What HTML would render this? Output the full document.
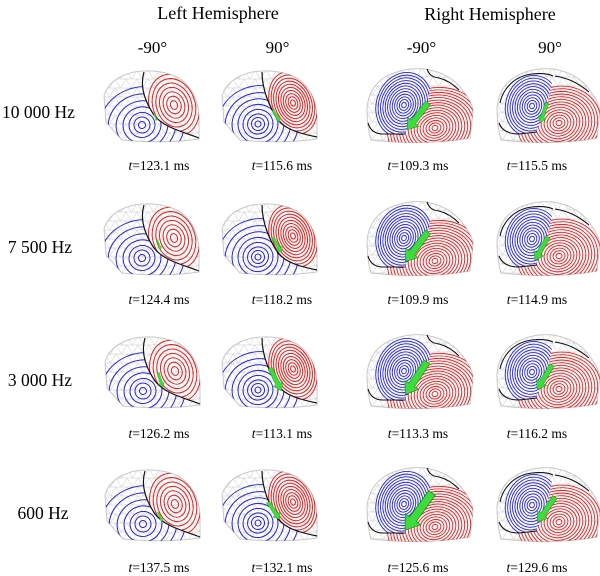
<!DOCTYPE html>
<html><head><meta charset="utf-8"><style>
html,body{margin:0;padding:0;background:#fff;}
svg{display:block;}
</style></head><body>
<svg width="600" height="576" viewBox="0 0 600 576" xmlns="http://www.w3.org/2000/svg" xmlns:xlink="http://www.w3.org/1999/xlink" font-family="'Liberation Serif', serif">
<defs>
<pattern id="mesh" width="11" height="9" patternUnits="userSpaceOnUse"><path d="M0,0H11M0,0L5.5,9L11,0M0,9H11" stroke="#d8d8d8" stroke-width="0.7" fill="none"/></pattern>
<clipPath id="hA"><path d="M0,26 Q5,8 30,2 Q55,-2 75,8 Q93,20 95,45 L95,69 Q60,74 18,70 L2,52 Z"/></clipPath>
<clipPath id="hC"><path d="M0,40 Q2,18 20,8 Q38,-1 58,1 Q84,5 97,24 Q106,36 106,44 L103,70 Q60,78 4,72 Q0,58 0,40 Z"/></clipPath>
<clipPath id="hD"><path d="M0,40 Q1.9,18 19.4,8 Q36.9,-1 56.3,1 Q81.5,5 94.1,24 Q102.8,36 102.8,44 L99.9,70 Q58.2,78 3.9,72 Q0,58 0,40 Z"/></clipPath>
<clipPath id="rA"><path d="M39,-5 C36,15 40,30 50,45 C60,58 80,62 100,68 L100,-5 Z"/></clipPath>
<clipPath id="bA"><path d="M39,-5 C36,15 40,30 50,45 C60,58 80,62 100,68 L100,80 L-5,80 L-5,-5 Z"/></clipPath>
<clipPath id="rB"><path d="M40,-5 C40,20 48,38 56,50 C64,60 80,64 100,67 L100,-5 Z"/></clipPath>
<clipPath id="bB"><path d="M40,-5 C40,20 48,38 56,50 C64,60 80,64 100,67 L100,80 L-5,80 L-5,-5 Z"/></clipPath>
<clipPath id="bC"><path d="M64,-5 L63,20 L61,33 L50,48 L40,62 L36,67 L14,66 L2,58 L-5,55 L-5,-5 Z"/></clipPath>
<clipPath id="rC"><path d="M63,20 L66,12 L74,11 L92,22 L115,30 L115,90 L-5,90 L-5,60 L2,58 L14,66 L36,67 L40,62 L50,48 L61,33 Z"/></clipPath>
<clipPath id="bD"><path d="M58,-5 L56,10 L52,28 L47,45 L42,58 L38,65 L14,66 L2,58 L-5,55 L-5,-5 Z"/></clipPath>
<clipPath id="rD"><path d="M56,10 L62,9 L74,11 L92,24 L115,30 L115,90 L-5,90 L-5,60 L2,58 L14,66 L38,65 L42,58 L47,45 L52,28 Z"/></clipPath>

<polygon id="arr" points="0,-3 24,-3 24,-7 34,0 24,7 24,3 0,3" fill="#3bdc3b" stroke="#1a7f1a" stroke-width="0.5"/>

<!-- Template A: Left hemisphere -90 -->
<g id="tA">
<path d="M0,26 Q5,8 30,2 Q55,-2 75,8 Q93,20 95,45 L95,69 Q60,74 18,70 L2,52 Z" fill="url(#mesh)" stroke="#c8c8c8" stroke-width="1"/>
<g clip-path="url(#hA)" fill="none" stroke-width="1">
 <g clip-path="url(#rA)" stroke="#e41e1e"><g transform="translate(70,35) rotate(-20)">
  <ellipse rx="3.5" ry="4.5"/><ellipse rx="7" ry="9"/><ellipse rx="10.5" ry="13.5"/><ellipse rx="14" ry="18"/><ellipse rx="17.5" ry="22.5"/><ellipse rx="21" ry="27"/><ellipse rx="24.5" ry="31.5"/>
 </g></g>
 <g clip-path="url(#bA)" stroke="#2424d8"><g transform="translate(38,55) rotate(-15)">
  <ellipse rx="3.5" ry="3.5"/><ellipse rx="8" ry="8"/><ellipse rx="13" ry="12.5"/><ellipse rx="19" ry="18"/><ellipse rx="26" ry="24"/><ellipse rx="34" ry="31"/><ellipse rx="43" ry="38"/>
 </g></g>
</g>
<path d="M40,2 C36,15 40,30 50,45 C60,58 80,62 95,68" fill="none" stroke="#111" stroke-width="1.2"/>
</g>

<!-- Template B: Left hemisphere 90 -->
<g id="tB">
<path d="M0,26 Q5,8 30,2 Q55,-2 75,8 Q93,20 95,45 L95,69 Q60,74 18,70 L2,52 Z" fill="url(#mesh)" stroke="#c8c8c8" stroke-width="1"/>
<g clip-path="url(#hA)" fill="none" stroke-width="1">
 <g clip-path="url(#rB)" stroke="#e41e1e"><g transform="translate(71,33) rotate(-20)">
  <ellipse rx="2.3" ry="3.2"/><ellipse rx="4.6" ry="6.4"/><ellipse rx="6.9" ry="9.6"/><ellipse rx="9.2" ry="12.8"/><ellipse rx="11.5" ry="16"/><ellipse rx="13.8" ry="19.2"/><ellipse rx="16.1" ry="22.4"/><ellipse rx="18.4" ry="25.6"/><ellipse rx="20.7" ry="28.8"/><ellipse rx="23" ry="32"/>
 </g></g>
 <g clip-path="url(#bB)" stroke="#2424d8"><g transform="translate(36,54) rotate(-20)">
  <ellipse rx="3" ry="3"/><ellipse rx="6.5" ry="6.5"/><ellipse rx="10.5" ry="10"/><ellipse rx="15" ry="14.5"/><ellipse rx="20" ry="19.5"/><ellipse rx="26" ry="25"/><ellipse rx="33" ry="31"/><ellipse rx="41" ry="38"/>
 </g></g>
</g>
<path d="M40,2 C40,20 48,38 56,50 C64,60 80,64 95,67" fill="none" stroke="#111" stroke-width="1.2"/>
</g>

<!-- Template C: Right hemisphere -90 -->
<g id="tC">
<path d="M0,40 Q2,18 20,8 Q38,-1 58,1 Q84,5 97,24 Q106,36 106,44 L103,70 Q60,78 4,72 Q0,58 0,40 Z" fill="url(#mesh)" stroke="#c8c8c8" stroke-width="1"/>
<g clip-path="url(#hC)" fill="none" stroke-width="0.9">
 <g clip-path="url(#bC)" stroke="#2424d8"><g transform="translate(37,37) rotate(18)">
  <ellipse rx="2.3" ry="2.75"/><ellipse rx="4.6" ry="5.5"/><ellipse rx="6.9" ry="8.25"/><ellipse rx="9.2" ry="11"/><ellipse rx="11.5" ry="13.75"/><ellipse rx="13.8" ry="16.5"/><ellipse rx="16.1" ry="19.25"/><ellipse rx="18.4" ry="22"/><ellipse rx="20.7" ry="24.75"/><ellipse rx="23" ry="27.5"/><ellipse rx="25.3" ry="30.25"/><ellipse rx="27.6" ry="33"/>
 </g></g>
 <g clip-path="url(#rC)" stroke="#e41e1e"><g transform="translate(68,60) rotate(-15)">
  <ellipse rx="3" ry="2.5"/><ellipse rx="6" ry="5"/><ellipse rx="9" ry="7.5"/><ellipse rx="12" ry="10"/><ellipse rx="15" ry="12.5"/><ellipse rx="18" ry="15"/><ellipse rx="21" ry="17.5"/><ellipse rx="24" ry="20"/><ellipse rx="27" ry="22.5"/><ellipse rx="30" ry="25"/><ellipse rx="33" ry="27.5"/><ellipse rx="36" ry="30"/><ellipse rx="39" ry="32.5"/><ellipse rx="42" ry="35"/><ellipse rx="45" ry="37.5"/><ellipse rx="48" ry="40"/>
 </g></g>
</g>
<path d="M60,1 C62,6 64,9 72,10 C80,12 86,16 92,22" fill="none" stroke="#111" stroke-width="1.1"/>
<path d="M1,55 C3,62 8,66 16,66 L38,66" fill="none" stroke="#111" stroke-width="1.1"/>
</g>

<!-- Template D: Right hemisphere 90 -->
<g id="tD">
<path d="M0,40 Q1.9,18 19.4,8 Q36.9,-1 56.3,1 Q81.5,5 94.1,24 Q102.8,36 102.8,44 L99.9,70 Q58.2,78 3.9,72 Q0,58 0,40 Z" fill="url(#mesh)" stroke="#c8c8c8" stroke-width="1"/>
<g clip-path="url(#hD)" fill="none" stroke-width="0.9">
 <g clip-path="url(#bD)" stroke="#2424d8"><g transform="translate(35,38) rotate(15)">
  <ellipse rx="2.4" ry="2.8"/><ellipse rx="4.8" ry="5.6"/><ellipse rx="7.2" ry="8.4"/><ellipse rx="9.6" ry="11.2"/><ellipse rx="12" ry="14"/><ellipse rx="14.4" ry="16.8"/><ellipse rx="16.8" ry="19.6"/><ellipse rx="19.2" ry="22.4"/><ellipse rx="21.6" ry="25.2"/><ellipse rx="24" ry="28"/><ellipse rx="26.4" ry="30.8"/>
 </g></g>
 <g clip-path="url(#rD)" stroke="#e41e1e"><g transform="translate(62,55) rotate(-15)">
  <ellipse rx="3" ry="2.6"/><ellipse rx="6" ry="5.2"/><ellipse rx="9" ry="7.8"/><ellipse rx="12" ry="10.4"/><ellipse rx="15" ry="13"/><ellipse rx="18" ry="15.6"/><ellipse rx="21" ry="18.2"/><ellipse rx="24" ry="20.8"/><ellipse rx="27" ry="23.4"/><ellipse rx="30" ry="26"/><ellipse rx="33" ry="28.6"/><ellipse rx="36" ry="31.2"/><ellipse rx="39" ry="33.8"/><ellipse rx="42" ry="36.4"/>
 </g></g>
</g>
<path d="M3,35 C6,20 18,8 35,6 C45,5 52,6 56,8" fill="none" stroke="#111" stroke-width="1.1"/>
<path d="M58,8 C70,10 80,14 92,24" fill="none" stroke="#111" stroke-width="1.1"/>
<path d="M2,55 C5,63 12,66 22,66 L40,64" fill="none" stroke="#111" stroke-width="1.1"/>
</g>
</defs>

<!-- Headers -->
<text x="218" y="19" font-size="18" text-anchor="middle">Left Hemisphere</text>
<text x="490" y="20" font-size="18" text-anchor="middle">Right Hemisphere</text>
<text x="152.5" y="53" font-size="17" text-anchor="middle">-90°</text>
<text x="277.5" y="53" font-size="17" text-anchor="middle">90°</text>
<text x="421.5" y="53" font-size="17" text-anchor="middle">-90°</text>
<text x="550" y="53" font-size="17" text-anchor="middle">90°</text>

<!-- Row labels -->
<text x="38.5" y="118" font-size="17.5" text-anchor="middle">10 000 Hz</text>
<text x="40" y="253" font-size="17.5" text-anchor="middle">7 500 Hz</text>
<text x="40" y="386" font-size="17.5" text-anchor="middle">3 000 Hz</text>
<text x="43" y="519" font-size="17.5" text-anchor="middle">600 Hz</text>

<!-- Heads row 1 -->
<use href="#tA" x="104" y="70"/>
<use href="#tB" x="222" y="70"/>
<use href="#tC" x="367" y="68"/>
<use href="#tD" x="497" y="68"/>
<!-- row 2 -->
<use href="#tA" x="104" y="203"/>
<use href="#tB" x="222" y="203"/>
<use href="#tC" x="367" y="201"/>
<use href="#tD" x="497" y="201"/>
<!-- row 3 -->
<use href="#tA" x="105" y="336"/>
<use href="#tB" x="222" y="336"/>
<use href="#tC" x="367" y="334"/>
<use href="#tD" x="497" y="334"/>
<!-- row 4 -->
<use href="#tA" x="105" y="469"/>
<use href="#tB" x="222" y="469"/>
<use href="#tC" x="367" y="467"/>
<use href="#tD" x="497" y="467"/>

<!-- Arrows col1 -->
<use href="#arr" transform="translate(154,114) rotate(65) scale(0.22)" style="fill:#8a9a20"/>
<use href="#arr" transform="translate(157,240) rotate(68) scale(0.3)"/>
<use href="#arr" transform="translate(158,373) rotate(71.6) scale(0.45)"/>
<use href="#arr" transform="translate(158,512) rotate(66) scale(0.3)"/>
<!-- Arrows col2 -->
<use href="#arr" transform="translate(273,110) rotate(59.7) scale(0.4)"/>
<use href="#arr" transform="translate(273,238) rotate(59) scale(0.5)"/>
<use href="#arr" transform="translate(270,368) rotate(63.4) scale(0.75)"/>
<use href="#arr" transform="translate(268,502) rotate(56) scale(0.62)"/>
<!-- Arrows col3 -->
<use href="#arr" transform="translate(428,103) rotate(127.9) scale(1.0)"/>
<use href="#arr" transform="translate(428,232) rotate(127.5) scale(1.1)"/>
<use href="#arr" transform="translate(427,362) rotate(123.7) scale(1.15)"/>
<use href="#arr" transform="translate(432,493) rotate(126) scale(1.35)"/>
<!-- Arrows col4 -->
<use href="#arr" transform="translate(547,103) rotate(109) scale(0.62)"/>
<use href="#arr" transform="translate(548,237) rotate(119.5) scale(0.78)"/>
<use href="#arr" transform="translate(552,365) rotate(121) scale(0.85)"/>
<use href="#arr" transform="translate(555,497) rotate(124.7) scale(0.9)"/>

<!-- Time labels -->
<g font-size="13.5" text-anchor="middle">
<text x="159" y="170"><tspan font-style="italic">t</tspan>=123.1 ms</text>
<text x="282" y="170"><tspan font-style="italic">t</tspan>=115.6 ms</text>
<text x="418" y="170"><tspan font-style="italic">t</tspan>=109.3 ms</text>
<text x="537" y="170"><tspan font-style="italic">t</tspan>=115.5 ms</text>

<text x="159" y="304"><tspan font-style="italic">t</tspan>=124.4 ms</text>
<text x="282" y="304"><tspan font-style="italic">t</tspan>=118.2 ms</text>
<text x="418" y="304"><tspan font-style="italic">t</tspan>=109.9 ms</text>
<text x="537" y="304"><tspan font-style="italic">t</tspan>=114.9 ms</text>

<text x="159" y="438"><tspan font-style="italic">t</tspan>=126.2 ms</text>
<text x="282" y="438"><tspan font-style="italic">t</tspan>=113.1 ms</text>
<text x="418" y="438"><tspan font-style="italic">t</tspan>=113.3 ms</text>
<text x="537" y="438"><tspan font-style="italic">t</tspan>=116.2 ms</text>

<text x="159" y="572"><tspan font-style="italic">t</tspan>=137.5 ms</text>
<text x="282" y="572"><tspan font-style="italic">t</tspan>=132.1 ms</text>
<text x="418" y="572"><tspan font-style="italic">t</tspan>=125.6 ms</text>
<text x="537" y="572"><tspan font-style="italic">t</tspan>=129.6 ms</text>
</g>
</svg>
</body></html>
